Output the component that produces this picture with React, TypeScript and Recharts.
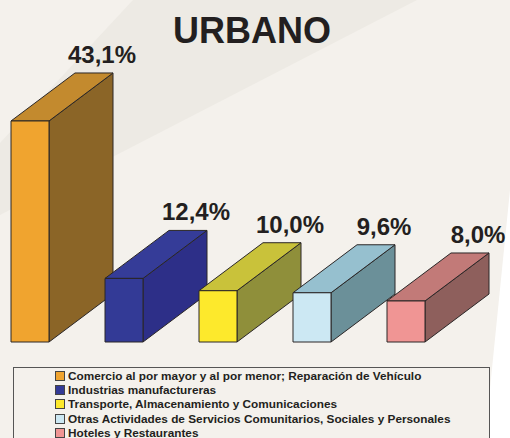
import { BarChart, Bar, XAxis, YAxis, LabelList } from 'recharts'

const categories = [
  'Comercio al por mayor y al por menor; Reparación de Vehículo',
  'Industrias manufactureras',
  'Transporte, Almacenamiento y Comunicaciones',
  'Otras Actividades de Servicios Comunitarios, Sociales y Personales',
  'Hoteles y Restaurantes',
]
const shares = [43.1, 12.4, 10.0, 9.6, 8.0]
const shareLabels = ['43,1%', '12,4%', '10,0%', '9,6%', '8,0%']

const frontColours = ['#f0a42f', '#333a96', '#fde92c', '#cce8f3', '#f09594']
const sideColours = ['#8b6527', '#2d2f88', '#8f8f3a', '#6b9099', '#8e5f5c']
const topColours = ['#c38a2e', '#353c98', '#c9c23a', '#96c0cf', '#c27a78']

const data = categories.map((name, i) => ({ idx: i, name, value: shares[i], label: shareLabels[i] }))

const DX = 64
const DY = 48
const EDGE = '#2a2626'
const INK = '#231f20'
const FONT = '"Liberation Sans", Arial, sans-serif'

function Box3D(props: any) {
  const { x, y, width, height, index } = props
  const r = x + width
  const b = y + height
  return (
    <g stroke={EDGE} strokeWidth={1} strokeLinejoin="round">
      <polygon points={`${r},${y} ${r + DX},${y - DY} ${r + DX},${b - DY} ${r},${b}`} fill={sideColours[index]} />
      <polygon points={`${x},${y} ${x + DX},${y - DY} ${r + DX},${y - DY} ${r},${y}`} fill={topColours[index]} />
      <rect x={x} y={y} width={width} height={height} fill={frontColours[index]} />
    </g>
  )
}

function ShareLabel(props: any) {
  const { x, y, width, value } = props
  return (
    <text x={x + width / 2 + 72} y={y - DY - 10} textAnchor="middle" fontFamily={FONT} fontWeight="bold" fontSize={24} fill={INK}>
      {value}
    </text>
  )
}

export default function App() {
  return (
    <div style={{ position: 'fixed', left: 0, top: 0, width: 510, height: 438, overflow: 'hidden', background: '#f4f1ec' }}>
      <svg width={510} height={438} style={{ position: 'absolute', left: 0, top: 0 }}>
        <polygon points="133,0 417,0 0,215 0,143" fill="#edeae4" />
        <polygon points="510,190 510,438 485,438" fill="#ffffff" />
        <text x={252} y={43} textAnchor="middle" fontFamily={FONT} fontWeight="bold" fontSize={36} fill={INK}>
          URBANO
        </text>
      </svg>

      <div style={{ position: 'absolute', left: 0, top: 0 }}>
        <BarChart width={510} height={438} data={data} margin={{ top: 85.6, right: 0, bottom: 96, left: 0 }}>
          <XAxis dataKey="idx" type="number" domain={[-30 / 94, 480 / 94]} hide />
          <YAxis type="number" domain={[0, 50]} hide />
          <Bar dataKey="value" barSize={38} shape={<Box3D />} isAnimationActive={false}>
            <LabelList dataKey="label" content={<ShareLabel />} />
          </Bar>
        </BarChart>
      </div>

      <div
        style={{
          position: 'absolute',
          left: 13,
          top: 367,
          width: 477,
          height: 90,
          border: '1.5px solid #555',
          background: '#f4f1ec',
          boxSizing: 'border-box',
        }}
      >
        <div style={{ position: 'absolute', left: 41, top: 1 }}>
          {categories.map((c, i) => (
            <div key={c} style={{ display: 'flex', alignItems: 'center', height: 14.2, fontFamily: FONT, fontWeight: 'bold', fontSize: 11.8, color: INK, whiteSpace: 'nowrap' }}>
              <span style={{ display: 'inline-block', width: 8, height: 8, background: frontColours[i], border: '1px solid #444', marginRight: 3 }} />
              {c}
            </div>
          ))}
        </div>
      </div>
    </div>
  )
}
